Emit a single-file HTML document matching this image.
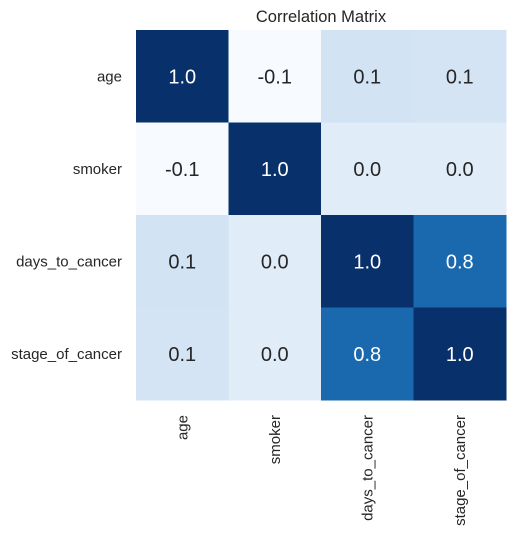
<!DOCTYPE html>
<html><head><meta charset="utf-8"><style>
body{margin:0;background:#fff;}
svg{display:block;font-family:"Liberation Sans",sans-serif;}
</style></head><body>
<svg id="chart" width="515" height="536"></svg>
<script>
const labels=["age","smoker","days_to_cancer","stage_of_cancer"];
const row0=[1.0,-0.08,0.12,0.11];
const row1=[-0.08,1.0,0.044,0.044];
const row2=[0.12,0.044,1.0,0.77];
const row3=[0.11,0.044,0.77,1.0];
const matrix=[row0,row1,row2,row3];
const titleText="Correlation Matrix";

const NS="http://www.w3.org/2000/svg";
const svg=document.getElementById('chart');
const X0=136,Y0=30,W=370,H=370;
const n=labels.length,cw=W/n,ch=H/n;
const xPos=i=>X0+i*cw, yPos=i=>Y0+i*ch;
let vmin=Infinity,vmax=-Infinity;
matrix.forEach(r=>r.forEach(v=>{vmin=Math.min(vmin,v);vmax=Math.max(vmax,v);}));
const stops=["#f7fbff","#deebf7","#c6dbef","#9ecae1","#6baed6","#4292c6","#2171b5","#08519c","#08306b"];
function hex(h){return [1,3,5].map(i=>parseInt(h.substr(i,2),16));}
function cmap(t){t=Math.max(0,Math.min(1,t));const p=t*8,i=Math.min(7,Math.floor(p)),f=p-i;
 const a=hex(stops[i]),b=hex(stops[i+1]);return "rgb("+a.map((v,k)=>Math.round(v+(b[k]-v)*f)).join(",")+")";}
function mk(tag,attrs,txt){const e=document.createElementNS(NS,tag);for(const k in attrs)e.setAttribute(k,attrs[k]);if(txt!==undefined)e.textContent=txt;svg.appendChild(e);return e;}

const title=mk('text',{x:X0+W/2,y:22,'text-anchor':'middle','font-size':16.5,fill:'#262626'},titleText);



matrix.forEach((r,i)=>r.forEach((v,j)=>{
 const t=(v-vmin)/(vmax-vmin);
 const rect=mk('rect',{x:xPos(j),y:yPos(i),width:cw+0.5,height:ch+0.5,fill:cmap(t)});
 
 
 const tx=mk('text',{x:xPos(j)+cw/2,y:yPos(i)+ch/2+7,'text-anchor':'middle','font-size':20,fill:t>0.5?'#ffffff':'#262626'},v.toFixed(1));
 
 
}));

labels.forEach((l,i)=>{
 const yl=mk('text',{x:X0-14,y:yPos(i)+ch/2+5,'text-anchor':'end','font-size':15,fill:'#262626'},l);
 
 
 const cx=xPos(i)+cw/2+5;
 const xl=mk('text',{x:cx,y:415,'text-anchor':'end','font-size':15,fill:'#262626',transform:'rotate(-90 '+cx+' 415)'},l);
 
 
});
</script>
</body></html>
